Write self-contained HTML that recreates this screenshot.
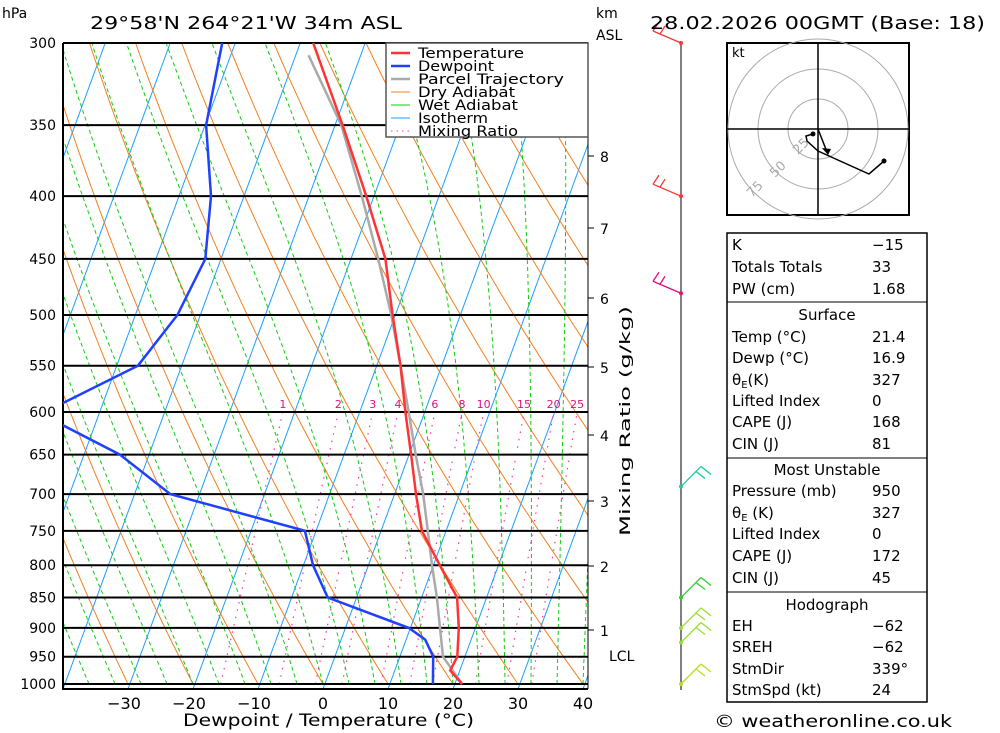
<!DOCTYPE html>
<html><head><meta charset="utf-8"><style>
body{margin:0;background:#fff;position:relative;width:1000px;height:733px;overflow:hidden}
svg{display:block;font-family:"DejaVu Sans","Liberation Sans",sans-serif;}
</style></head><body>
<svg id="c" width="1000" height="733" viewBox="0 0 1000 733">
<defs><clipPath id="pc"><rect x="63" y="43" width="525" height="646"/></clipPath></defs>
<g id="bg" clip-path="url(#pc)"></g>
<g id="grid"></g>
<g id="prof" clip-path="url(#pc)"></g>
<g id="ax"></g>
</svg>
<script>
const pressures=[300,350,400,450,500,550,600,650,700,750,800,850,900,950,1000];
const tempP=[300,350,400,450,500,550,600,650,700,750,800,850,900,950,975,1000];
const tempT=[-38,-28.8,-21.1,-14.6,-10.3,-6.2,-2.8,0.5,3.5,6.5,11.2,15.7,17.7,19.1,18.8,21.4];
const dewP=[300,350,400,450,500,550,590,600,611,650,700,750,800,850,900,920,950,1000];
const dewT=[-52,-49.8,-45,-42.3,-43.4,-46.6,-56,-62,-56,-44.3,-34.3,-11.5,-8.3,-4.2,10,13.2,15.4,16.9];
const parP=[307,350,400,450,500,550,600,650,700,750,800,850,900,950,1000];
const parT=[-38,-29,-21.8,-15.7,-10.5,-6.2,-2.3,1.2,4.6,7.4,10,12.6,14.8,16.9,21.4];
const xTicks=[-30,-20,-10,0,10,20,30,40];
const mixRatios=[1,2,3,4,6,8,10,15,20,25];
const kmLabels=[1,2,3,4,5,6,7,8];
const kmY=[630,566,501,435,367,298,228,156];
const barbP=[300,400,480,690,850,900,925,1000];
const barbCol=["#f33","#f33","#e0107a","#2c9","#3c3","#9d3","#9d3","#bd2"];

const NS="http://www.w3.org/2000/svg";
function el(tag,at,par){const e=document.createElementNS(NS,tag);for(const k in at)e.setAttribute(k,at[k]);par.appendChild(e);return e;}
const L=Math.log(1000/300);
function yP(p){return 43+641*Math.log(p/300)/L;}
function xT(T,p){return 323+6.5*T+0.37*(684-yP(p));}
function pts(P,T,off){off=off||0;return P.map((p,i)=>(xT(T[i],p)+off).toFixed(1)+","+yP(p).toFixed(1)).join(" ");}
const bg=document.getElementById('bg'),grid=document.getElementById('grid'),prof=document.getElementById('prof'),ax=document.getElementById('ax');
const plist=[];for(let p=1000;p>=290;p-=10)plist.push(p);
for(let T=-120;T<=40;T+=10){const l=el('line',{x1:xT(T,1000),y1:yP(1000)+5,x2:xT(T,290),y2:yP(290),stroke:'#1aa0ff','stroke-width':1},bg);
}
for(let th=-40;th<=200;th+=10){const P=plist,T=P.map(p=>(th+273.15)*Math.pow(p/1000,0.2857)-273.15);
const l=el('polyline',{points:pts(P,T),fill:'none',stroke:'#f08020','stroke-width':1},bg);
}
function es(T){return 6.112*Math.exp(17.67*T/(T+243.5));}
for(let t0=-36;t0<=40;t0+=4){let T=t0+273.15;const P=[],TT=[];for(let p=1000;p>=290;p-=5){P.push(p);TT.push(T-273.15);
const rs=0.622*es(T-273.15)/(p-es(T-273.15));const d=(287*T+2.5e6*rs)/(p*(1004+2.5e6*2.5e6*rs*0.622/(287*T*T)));T-=d*5;}
const l=el('polyline',{points:pts(P,TT),fill:'none',stroke:'#1c1','stroke-width':1,'stroke-dasharray':'4,3'},bg);
}
for(const w of mixRatios){const P=[],T=[];for(let p=1000;p>=600;p-=10){const e=w*p/(622+w),a=Math.log(e/6.112);P.push(p);T.push(243.5*a/(17.67-a));}
const x6=xT(T[T.length-1],600);const off=9+0.055*(x6-273);
const l=el('polyline',{points:pts(P,T,off),fill:'none',stroke:'#f3a','stroke-width':1.2,'stroke-dasharray':'1.5,6'},bg);

const t=el('text',{x:x6+off,y:408,'font-size':11,fill:'#e0107a','text-anchor':'middle'},ax);t.textContent=w;
}
for(const p of pressures){const y=yP(p);const l=el('line',{x1:63,y1:y,x2:588,y2:y,stroke:'#000','stroke-width':2},grid);

const t=el('text',{x:56,y:y+5,'font-size':14,'text-anchor':'end',fill:'#000'},ax);t.textContent=p;
}
el('line',{x1:63,y1:43,x2:63,y2:690,stroke:'#000','stroke-width':2},grid);
el('line',{x1:63,y1:689,x2:588,y2:689,stroke:'#000','stroke-width':2},grid);
el('line',{x1:588,y1:43,x2:588,y2:689,stroke:'#000','stroke-width':1},grid);
const par=el('polyline',{points:pts(parP,parT),fill:'none',stroke:'#aaa','stroke-width':2.5},prof);

const dw=el('polyline',{points:pts(dewP,dewT),fill:'none',stroke:'#2040ff','stroke-width':2.5},prof);

const tl=el('polyline',{points:pts(tempP,tempT),fill:'none',stroke:'#f33','stroke-width':2.5},prof);

for(const v of xTicks){const t=el('text',{x:xT(v,1000)-(v<0?4:0),y:709,'font-size':16,'text-anchor':'middle',fill:'#000'},ax);t.textContent=(v<0?'\u2212':'')+Math.abs(v);
}
kmLabels.forEach((k,i)=>{const t=el('text',{x:600,y:kmY[i]+6,'font-size':14,fill:'#000'},ax);t.textContent=k;

el('line',{x1:588,y1:kmY[i],x2:594,y2:kmY[i],stroke:'#000'},ax);});
el('line',{x1:681,y1:43,x2:681,y2:690,stroke:'#555','stroke-width':1.5},ax);
barbP.forEach((p,i)=>{const y=yP(p),c=barbCol[i];const g=el('g',{},ax);

el('circle',{cx:681,cy:y,r:2,fill:c},g);
const dx=p<600?-28:20,dy=p<600?-12:-20;
el('line',{x1:681,y1:y,x2:681+dx,y2:y+dy,stroke:c,'stroke-width':1.3},g);
el('line',{x1:681+dx,y1:y+dy,x2:681+dx+(p<600?6:10),y2:y+dy+(p<600?-9:8),stroke:c,'stroke-width':1.3},g);
el('line',{x1:681+dx*0.75,y1:y+dy*0.75,x2:681+dx*0.75+(p<600?5:9),y2:y+dy*0.75+(p<600?-8:7),stroke:c,'stroke-width':1.3},g);});
</script>
<svg style="position:absolute;left:0;top:0" width="1000" height="733">
<g fill="#000">
<text x="2" y="18" font-size="14">hPa</text>
<text x="90" y="29" font-size="18" textLength="312" lengthAdjust="spacingAndGlyphs">29°58'N  264°21'W  34m  ASL</text>
<text x="596" y="18" font-size="14">km</text>
<text x="596" y="40" font-size="14">ASL</text>
<text x="650" y="29" font-size="18" textLength="335" lengthAdjust="spacingAndGlyphs">28.02.2026  00GMT  (Base:  18)</text>
<text x="183" y="726" font-size="17" textLength="291" lengthAdjust="spacingAndGlyphs">Dewpoint / Temperature (°C)</text>
<text x="609" y="661" font-size="14">LCL</text>
<text transform="translate(630,536) rotate(-90)" font-size="14" textLength="230" lengthAdjust="spacingAndGlyphs">Mixing Ratio (g/kg)</text>
<text x="714" y="727" font-size="17" textLength="238" lengthAdjust="spacingAndGlyphs">© weatheronline.co.uk</text>
</g>
<g font-size="14">
<rect x="386" y="43" width="202" height="94" fill="#fff" stroke="#555" stroke-width="1.5"/>
<line x1="391" y1="53" x2="410" y2="53" stroke="#f33" stroke-width="2.5"/><text x="418" y="58" textLength="106" lengthAdjust="spacingAndGlyphs">Temperature</text>
<line x1="391" y1="66" x2="410" y2="66" stroke="#2040ff" stroke-width="2.5"/><text x="418" y="71" textLength="76" lengthAdjust="spacingAndGlyphs">Dewpoint</text>
<line x1="391" y1="79" x2="410" y2="79" stroke="#aaa" stroke-width="2.5"/><text x="418" y="84" textLength="146" lengthAdjust="spacingAndGlyphs">Parcel Trajectory</text>
<line x1="391" y1="92" x2="410" y2="92" stroke="#f08020"/><text x="418" y="97" textLength="97" lengthAdjust="spacingAndGlyphs">Dry Adiabat</text>
<line x1="391" y1="105" x2="410" y2="105" stroke="#1c1"/><text x="418" y="110" textLength="100" lengthAdjust="spacingAndGlyphs">Wet Adiabat</text>
<line x1="391" y1="118" x2="410" y2="118" stroke="#1aa0ff"/><text x="418" y="123" textLength="70" lengthAdjust="spacingAndGlyphs">Isotherm</text>
<line x1="391" y1="131" x2="410" y2="131" stroke="#f3a" stroke-dasharray="1.5,4"/><text x="418" y="136" textLength="100" lengthAdjust="spacingAndGlyphs">Mixing Ratio</text>
</g>
<g>
<rect x="727" y="43" width="182" height="172" fill="#fff" stroke="#000" stroke-width="2"/>
<circle cx="818" cy="129" r="30" fill="none" stroke="#aaa"/><circle cx="818" cy="129" r="60" fill="none" stroke="#aaa"/><circle cx="818" cy="129" r="90" fill="none" stroke="#aaa"/>
<line x1="818" y1="43" x2="818" y2="215" stroke="#000" stroke-width="1.5"/><line x1="727" y1="129" x2="909" y2="129" stroke="#000" stroke-width="1.5"/>
<text x="732" y="57" font-size="13">kt</text>
<text x="798" y="155" font-size="13" fill="#aaa" transform="rotate(-45 798 155)">25</text>
<text x="775" y="178" font-size="13" fill="#aaa" transform="rotate(-45 775 178)">50</text>
<text x="752" y="198" font-size="13" fill="#aaa" transform="rotate(-45 752 198)">75</text>
<polyline points="813,134 806,136 807,141 818,151 869,174 884,161" fill="none" stroke="#000" stroke-width="1.5"/>
<line x1="818" y1="129" x2="827" y2="152" stroke="#000" stroke-width="1.5"/>
<circle cx="813" cy="134" r="2.5"/><circle cx="884" cy="161" r="2.5"/><path d="M822,148 L831,149 L828,155Z"/>
</g>
<g font-size="15" fill="#000">
<rect x="727" y="233" width="200" height="469" fill="none" stroke="#000" stroke-width="1.5"/>
<line x1="727" y1="302" x2="927" y2="302" stroke="#000"/><line x1="727" y1="458" x2="927" y2="458" stroke="#000"/><line x1="727" y1="592" x2="927" y2="592" stroke="#000"/>
<text x="732" y="250">K</text><text x="872" y="250">−15</text>
<text x="732" y="272">Totals Totals</text><text x="872" y="272">33</text>
<text x="732" y="294">PW (cm)</text><text x="872" y="294">1.68</text>
<text x="827" y="320" text-anchor="middle">Surface</text>
<text x="732" y="342">Temp (°C)</text><text x="872" y="342">21.4</text>
<text x="732" y="363">Dewp (°C)</text><text x="872" y="363">16.9</text>
<text x="732" y="385">θ<tspan font-size="10" dy="3">E</tspan><tspan dy="-3">(K)</tspan></text><text x="872" y="385">327</text>
<text x="732" y="406">Lifted Index</text><text x="872" y="406">0</text>
<text x="732" y="427">CAPE (J)</text><text x="872" y="427">168</text>
<text x="732" y="449">CIN (J)</text><text x="872" y="449">81</text>
<text x="827" y="475" text-anchor="middle">Most Unstable</text>
<text x="732" y="496">Pressure (mb)</text><text x="872" y="496">950</text>
<text x="732" y="518">θ<tspan font-size="10" dy="3">E</tspan><tspan dy="-3"> (K)</tspan></text><text x="872" y="518">327</text>
<text x="732" y="539">Lifted Index</text><text x="872" y="539">0</text>
<text x="732" y="561">CAPE (J)</text><text x="872" y="561">172</text>
<text x="732" y="583">CIN (J)</text><text x="872" y="583">45</text>
<text x="827" y="610" text-anchor="middle">Hodograph</text>
<text x="732" y="631">EH</text><text x="872" y="631">−62</text>
<text x="732" y="652">SREH</text><text x="872" y="652">−62</text>
<text x="732" y="674">StmDir</text><text x="872" y="674">339°</text>
<text x="732" y="695">StmSpd (kt)</text><text x="872" y="695">24</text>
</g>
</svg>
</body></html>
